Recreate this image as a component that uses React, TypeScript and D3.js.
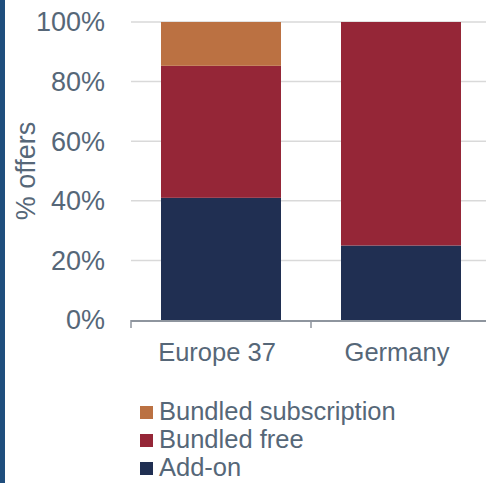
import React from "react";
import * as d3 from "d3";

const categories = ["Europe 37", "Germany"];
const seriesNames = ["Add-on", "Bundled free", "Bundled subscription"];
const addOn = [0.41, 0.25];
const bundledFree = [0.443, 0.75];
const bundledSub = [0.147, 0];
const yTicks = [0, 0.2, 0.4, 0.6, 0.8, 1.0];
const colors = ["#202f52", "#952637", "#bb7142"];

const W = 486;
const H = 483;
const FONT = "'Liberation Sans', Arial, sans-serif";
const TEXT = "#566778";

export default function App() {
  const x = d3.scaleBand<string>().domain(categories).range([131, 491]).paddingInner(0).paddingOuter(0);
  const y = d3.scaleLinear().domain([0, 1]).range([320, 22]);
  const rows = categories.map((c, i) => ({ cat: c, "Add-on": addOn[i], "Bundled free": bundledFree[i], "Bundled subscription": bundledSub[i] }));
  const stack = d3.stack<any>().keys(seriesNames)(rows);
  const barW = x.bandwidth() * (2 / 3);
  const legendItems = [...seriesNames].reverse();
  const fmt = d3.format(".0%");

  return (
    <svg width={W} height={H} style={{ position: "absolute", left: 0, top: 0, display: "block" }} fontFamily={FONT}>
      <rect x={0} y={0} width={W} height={H} fill="#fff" />
      <rect x={0} y={0} width={5} height={H} fill="#1f4e7d" />
      {yTicks.filter((t) => t > 0).map((t) => (
        <line key={t} x1={131} x2={W} y1={y(t)} y2={y(t)} stroke="#d9d9d9" strokeWidth={1.5} />
      ))}
      {stack.map((s, si) => (
        <g key={s.key} fill={colors[si]}>
          {s.map((d, i) => (
            <rect key={i} x={x(categories[i])! + (x.bandwidth() - barW) / 2} width={barW} y={y(d[1])} height={Math.max(0, y(d[0]) - y(d[1]))} />
          ))}
        </g>
      ))}
      <line x1={131} x2={W} y1={321} y2={321} stroke="#8e959e" strokeWidth={2} />
      {[...categories.map((c) => x(c)!), 491].map((v, i) => (
        <line key={i} x1={v} x2={v} y1={320} y2={328} stroke="#8e959e" strokeWidth={1.5} />
      ))}
      {yTicks.map((t) => (
        <text key={t} x={105} y={y(t)} dy="0.35em" textAnchor="end" fontSize={27} fill={TEXT}>{fmt(t)}</text>
      ))}
      <text transform={`translate(35,171) rotate(-90)`} textAnchor="middle" fontSize={27} fill={TEXT}>% offers</text>
      {categories.map((c) => (
        <text key={c} x={x(c)! + x.bandwidth() / 2 - 4} y={361} textAnchor="middle" fontSize={25.5} fill={TEXT}>{c}</text>
      ))}
      {legendItems.map((name, i) => (
        <g key={name} transform={`translate(140,${406 + i * 28})`}>
          <rect x={0} y={0} width={13} height={13} fill={colors[seriesNames.indexOf(name)]} />
          <text x={19} y={14} fontSize={25.5} fill={TEXT}>{name}</text>
        </g>
      ))}
    </svg>
  );
}
